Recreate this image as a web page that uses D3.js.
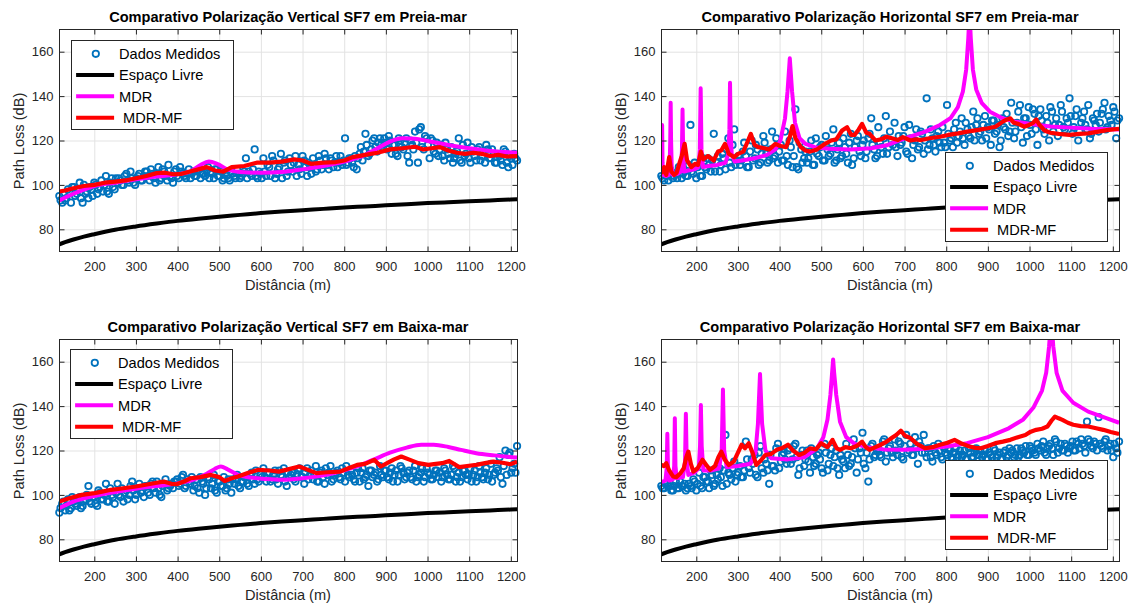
<!DOCTYPE html>
<html><head><meta charset="utf-8">
<script src="https://cdn.jsdelivr.net/npm/d3@7"></script>
<style>body{margin:0;background:#fff}</style>
</head><body><svg id="c" width="1143" height="606"></svg>
<script>
// ---------- DATA ----------
const titulos = [
  "Comparativo Polarização Vertical SF7 em Preia-mar",
  "Comparativo Polarização Horizontal SF7 em Preia-mar",
  "Comparativo Polarização Vertical SF7 em Baixa-mar",
  "Comparativo Polarização Horizontal SF7 em Baixa-mar"
];
const xLabel = "Distância (m)";
const yLabel = "Path Loss (dB)";
const legendLabels = ["Dados Medidos", "Espaço Livre", "MDR", " MDR-MF"];
const xTicks = [200, 300, 400, 500, 600, 700, 800, 900, 1000, 1100, 1200];
const yTicks = [80, 100, 120, 140, 160];

const distancias = [
  116,123,130,137,144,151,158,165,172,179,
  186,193,200,207,214,221,228,235,242,249,
  256,263,270,277,284,291,298,305,312,319,
  326,333,340,347,354,361,368,375,382,389,
  396,403,410,417,424,431,438,445,452,459,
  466,473,480,487,494,501,508,515,522,529,
  536,543,550,557,564,571,578,585,592,599,
  606,613,620,627,634,641,648,655,662,669,
  676,683,690,697,704,711,718,725,732,739,
  746,753,760,767,774,781,788,795,802,809,
  816,823,830,837,844,851,858,865,872,879,
  886,893,900,907,914,921,928,935,942,949,
  956,963,970,977,984,991,998,1005,1012,1019,
  1026,1033,1040,1047,1054,1061,1068,1075,1082,1089,
  1096,1103,1110,1117,1124,1131,1138,1145,1152,1159,
  1166,1173,1180,1187,1194,1201,1208,1215
];
const distanciasB = [
  119,126,133,140,147,154,161,168,175,182,
  189,196,203,210,217,224,231,238,245,252,
  259,266,273,280,287,294,301,308,315,322,
  329,336,343,350,357,364,371,378,385,392,
  399,406,413,420,427,434,441,448,455,462,
  469,476,483,490,497,504,511,518,525,532,
  539,546,553,560,567,574,581,588,595,602,
  609,616,623,630,637,644,651,658,665,672,
  679,686,693,700,707,714,721,728,735,742,
  749,756,763,770,777,784,791,798,805,812,
  819,826,833,840,847,854,861,868,875,882,
  889,896,903,910,917,924,931,938,945,952,
  959,966,973,980,987,994,1001,1008,1015,1022,
  1029,1036,1043,1050,1057,1064,1071,1078,1085,1092,
  1099,1106,1113,1120,1127,1134,1141,1148,1155,1162,
  1169,1176,1183,1190,1197,1204,1211
];

const medidosVPreia = [
  95,92,93,98,92,99,96,101,92,96,
  94,98,101,96,99,97,104,96,103,98,
  101,102,100,105,101,103,100,104,102,104,
  106,102,105,101,108,103,106,102,104,101,
  107,103,106,104,105,103,106,104,107,105,
  104,108,106,103,107,104,102,105,103,106,
  104,107,103,105,112,106,104,116,103,105,
  112,104,108,113,103,107,114,110,104,112,
  106,113,109,105,111,104,108,112,106,113,
  107,114,109,112,108,113,110,109,121,110,
  112,108,107,114,111,123,113,116,121,115,
  121,117,119,122,114,118,113,120,116,121,
  110,118,124,110,126,116,121,112,120,114,
  113,118,111,116,112,110,114,121,110,113,
  119,110,115,111,117,113,110,116,112,114,
  110,113,109,115,108,112,114,111
];
const medidosVPreiaB = [
  93,96,94,97,99,95,98,94,100,97,
  99,95,100,98,102,100,97,101,99,103,
  103,100,104,102,106,101,103,105,102,106,
  104,107,103,105,102,107,104,109,103,106,
  104,108,105,103,107,105,104,106,103,105,
  106,103,105,107,104,106,103,104,102,105,
  103,105,104,106,103,105,107,104,106,103,
  106,109,104,111,105,108,103,111,106,109,
  110,104,107,113,108,110,105,109,107,111,
  109,112,107,111,110,108,113,111,109,112,
  110,113,112,117,115,118,114,120,117,119,
  118,121,116,120,118,114,121,117,119,113,
  120,116,119,125,117,122,118,121,115,119,
  116,113,119,114,117,112,115,111,118,114,
  112,117,113,116,111,115,118,112,116,110,
  114,111,116,110,113,109,112
];
const medidosHPreia = [
  104,102,104,107,103,105,108,103,106,104,
  127,105,103,109,104,108,112,106,123,110,
  106,114,107,121,108,125,111,109,115,113,
  108,120,112,116,110,122,114,111,124,113,
  110,118,111,113,120,108,134,107,116,112,
  110,115,109,121,113,118,111,116,114,125,
  111,119,113,117,110,123,112,120,115,118,
  112,121,130,116,113,119,114,131,117,120,
  128,113,118,122,115,127,112,120,116,124,
  114,139,118,121,115,124,117,119,136,120,
  117,128,122,130,118,125,121,133,127,123,
  120,131,126,118,129,124,117,130,125,122,
  137,121,128,136,119,130,135,123,132,118,
  134,125,131,120,133,127,122,136,126,130,
  139,123,131,120,128,133,125,121,130,127,
  124,132,137,126,129,135,121,130
];
const medidosHPreiaB = [
  103,105,102,106,104,103,107,105,104,109,
  106,110,108,104,112,107,109,111,106,113,
  109,112,116,110,118,109,113,111,119,108,
  115,111,118,109,114,119,110,116,112,121,
  115,111,124,109,117,113,108,119,110,115,
  112,120,109,114,117,111,122,113,119,110,
  116,112,121,114,119,109,117,122,113,120,
  115,123,118,112,126,117,121,114,124,118,
  117,122,119,126,114,121,118,125,117,123,
  120,116,125,118,122,119,126,117,123,121,
  125,119,124,121,128,122,126,120,130,124,
  127,121,125,129,123,127,120,126,132,124,
  128,124,133,126,130,122,127,134,125,131,
  129,123,128,135,124,130,127,133,125,128,
  131,126,134,124,130,127,136,123,129,132,
  128,134,125,131,127,133,129
];
const medidosVBaixa = [
  92,96,93,98,94,97,95,99,95,98,
  104,96,99,95,101,98,105,97,100,96,
  105,99,97,102,100,106,98,103,101,99,
  104,100,106,101,103,99,105,102,104,103,
  106,104,108,103,107,105,102,107,101,106,
  100,108,103,109,101,106,104,102,107,101,
  105,109,103,106,108,104,110,105,107,109,
  112,106,110,107,111,105,109,112,104,108,
  110,106,111,108,105,112,109,107,113,106,
  111,105,109,113,107,110,108,112,106,109,
  111,107,110,106,112,108,104,111,109,106,
  113,108,111,107,112,109,106,113,110,108,
  111,107,113,108,110,106,112,109,107,111,
  108,106,112,109,107,113,106,110,108,111,
  107,112,109,106,113,108,110,107,114,109,
  112,117,105,120,118,110,114,122
];
const medidosVBaixaB = [
  94,97,95,93,99,96,98,94,97,100,
  97,99,96,102,98,100,97,103,99,101,
  100,103,101,98,104,102,100,105,102,104,
  101,105,103,106,100,104,107,103,105,106,
  107,105,109,104,106,108,104,103,108,105,
  103,107,105,102,106,104,108,103,105,107,
  107,104,106,108,105,109,107,111,106,108,
  108,110,106,109,107,111,108,106,110,109,
  107,109,112,108,110,107,111,109,106,110,
  108,112,110,106,109,111,107,110,113,108,
  109,106,112,110,107,109,111,108,110,107,
  109,111,108,110,106,111,109,112,107,110,
  108,111,106,109,112,108,110,107,109,111,
  110,108,111,107,109,112,108,106,111,109,
  109,106,111,108,110,107,112,109,106,110,
  111,108,113,109,119,112,110
];
const medidosHBaixa = [
  104,103,105,104,102,106,103,104,105,103,
  104,107,102,110,103,108,106,111,104,109,
  112,104,127,110,107,115,109,113,108,124,
  112,116,118,108,122,110,114,105,113,111,
  123,115,119,114,121,116,123,109,118,113,
  120,110,117,114,119,112,123,111,118,113,
  120,109,116,112,118,114,125,110,121,128,
  112,106,122,117,120,118,124,115,121,119,
  125,118,123,116,127,120,118,126,114,122,
  127,117,121,115,119,123,117,121,118,120,
  116,121,118,117,120,116,119,117,121,118,
  117,120,116,118,121,117,119,116,120,118,
  119,117,121,118,120,122,118,121,119,123,
  120,124,118,122,121,125,119,123,120,122,
  121,124,120,123,125,122,133,124,121,123,
  135,122,124,120,123,117,121,124
];
const medidosHBaixaB = [
  103,105,104,102,104,103,106,104,102,105,
  103,106,105,104,108,106,103,109,105,107,
  108,111,105,109,112,106,110,108,111,116,
  110,114,109,119,112,116,111,118,113,121,
  112,118,116,120,114,122,117,112,120,116,
  115,121,113,118,116,110,119,114,121,117,
  112,118,115,123,113,117,121,116,119,114,
  119,116,123,118,121,117,125,119,122,117,
  120,124,117,122,119,123,118,121,124,119,
  119,121,117,122,118,120,116,119,121,117,
  119,117,120,118,116,121,117,119,118,120,
  118,116,119,117,120,118,116,119,117,121,
  120,118,117,121,119,118,122,120,118,121,
  122,119,121,123,118,124,121,120,123,119,
  122,120,124,121,123,119,125,122,124,120,
  123,121,125,122,120,123,119
];

const espacoLivre = [
  [116,73.2],[130,74.2],[150,75.4],[175,76.7],[200,77.8],[250,79.8],[300,81.3],[350,82.6],
  [400,83.8],[450,84.8],[500,85.7],[550,86.5],[600,87.3],[650,88.0],[700,88.6],[750,89.2],
  [800,89.8],[850,90.3],[900,90.8],[950,91.3],[1000,91.8],[1050,92.2],[1100,92.6],[1150,93.0],
  [1200,93.4],[1215,93.5]
];

const mdrVPreia = [
  [116,93],[150,96],[200,99.5],[250,101],[300,102.5],[350,103.8],[400,104.8],[430,106],
  [455,109],[475,110.5],[495,109.5],[520,107],[550,105.8],[600,105.5],[650,105.8],[700,107],
  [750,108.5],[800,110.5],[850,113.5],[880,116.5],[910,119.5],[940,121],[970,120.8],
  [1000,119.8],[1050,118],[1100,116.5],[1150,115.3],[1215,114.5]
];
const mfVPreia = [
  [116,97],[130,97.5],[150,98.5],[175,99.5],[200,100],[225,101],[250,101.5],[275,102],
  [300,103],[325,104],[350,105.3],[370,105.5],[390,104.8],[410,105],[430,106],[450,107],
  [470,108],[490,106.5],[510,106],[530,108],[560,108.5],[590,110],[620,110],[650,110.5],
  [680,111.5],[700,111],[720,109.5],[750,110],[780,110.3],[800,111],[820,112.5],[850,113.5],
  [880,114.5],[910,116],[940,116.5],[970,117.2],[990,116],[1010,116.5],[1030,117],[1050,115.5],
  [1070,114.5],[1090,114],[1110,114.5],[1130,114],[1150,113],[1170,113.5],[1190,112.8],[1215,113]
];

const mdrHPreia = [
  [116,104],[117,110],[118,127],[119,110],[121,104.5],[128,104],[134,104.5],[136,108],
  [137.5,120],[138.5,137],[139.5,120],[141,108],[144,104.5],[155,105],[163,106],[165.5,115],
  [167,134],[168.5,115],[171,106],[180,106.5],[195,107],[205,108],[208.5,116],[210.5,143.5],
  [212.5,116],[216,108],[230,108.5],[250,109],[270,110],[277,114],[279.5,125],[281,146],
  [282.5,125],[285,114],[292,110.5],[310,111],[340,112],[370,113.5],[390,116],[402,120],
  [413,130],[419,142],[424.5,157],[430,142],[437,128],[448,121],[462,118.5],[485,117],
  [520,116.3],[570,116],[620,116.5],[660,118],[700,121],[750,124],[785,127],[810,130],
  [828,135],[840,142],[848,152],[853,166],[856,178],[859,166],[864,152],[872,143],
  [885,137],[905,133],[935,130],[965,128.5],[1000,127.5],[1050,126.3],[1100,125.8],[1150,125.3],
  [1215,125]
];
const mfHPreia = [
  [116,105],[123,108],[128,104.5],[135,112.5],[140,106],[147,104.5],[153,105.5],[160,110],
  [165,113],[172,118.5],[178,111],[188,108],[197,109.5],[204,109],[211,115],[217,111.5],
  [228,113],[242,111],[252,115],[260,115.5],[269,118.5],[278,114],[291,112.5],[300,114],
  [313,115],[322,119],[331,123],[340,118],[349,117],[363,116.5],[375,116],[390,118.5],
  [402,117.5],[416,117],[425,122],[431,126.5],[438,121],[451,117],[462,115.5],[473,115],
  [490,116],[509,118.5],[524,120],[536,120.5],[550,124.5],[562,126],[572,122.5],[580,122.5],
  [590,125],[598,127.5],[608,123.5],[616,123],[630,120],[643,120.5],[657,121.7],[669,121],
  [684,120.2],[696,121.5],[714,120],[728,120.5],[740,120.2],[760,121],[785,121.7],[805,122.5],
  [829,123.2],[850,124],[874,124.7],[900,125.5],[918,126.2],[936,128.5],[946,129.5],[954,130],
  [962,128],[973,127.5],[987,126.2],[999,127],[1009,128],[1016,129.5],[1024,127],[1036,124.5],
  [1050,123.5],[1070,123],[1096,122.5],[1120,123],[1141,123.2],[1165,124],[1186,124.7],[1215,125.3]
];

const mdrVBaixa = [
  [116,94],[150,97],[200,99.5],[250,101.3],[300,102.8],[350,104],[400,105.2],[440,107],
  [470,109.5],[490,111.8],[504,112.8],[520,111.5],[545,109],[575,107.8],[610,107.2],[650,106.8],
  [700,107.5],[750,108.8],[790,110.5],[830,112.8],[872,116],[910,119],[950,121.3],[985,122.6],
  [1015,122.6],[1050,121.6],[1080,120.3],[1117,118.8],[1160,117.8],[1215,116.8]
];
const mfVBaixa = [
  [116,97],[140,98.5],[170,100],[200,100.8],[219,101.5],[240,102.3],[270,103],[300,103.8],
  [330,104.8],[350,105.5],[366,106],[385,105],[398,104.8],[415,106],[431,107.5],[455,108],
  [480,109],[500,108],[513,106.3],[530,107.5],[545,108.3],[570,110],[594,111.3],[620,111],
  [643,110.5],[665,111.5],[692,112.8],[710,111.5],[733,109.8],[760,110.2],[790,110.5],[810,112],
  [831,113.5],[850,114],[872,115.8],[888,112.8],[905,114.5],[920,116],[937,117.3],[955,116],
  [978,114.3],[1002,113.5],[1020,114],[1035,114.3],[1052,115.3],[1063,114],[1076,112.5],[1095,113],
  [1117,113.5],[1138,114.3],[1158,115],[1180,114.5],[1199,113.8],[1215,115]
];

const mdrHBaixa = [
  [116,106],[120,106],[126,106.5],[129,112],[130.5,127.5],[132,112],[135,106.5],[144,107],
  [147,113],[148.5,134.5],[150,113],[153,107.5],[168,108],[173,115],[175,136.5],[177,115],
  [181,109],[195,110],[206,112],[209,122],[211,140.5],[213,122],[217,111],[235,111],
  [255,112],[261,120],[264,147.5],[267,120],[273,112.5],[300,113],[330,114],[342,119],
  [348,132],[353,154.5],[358,132],[366,120],[380,116.5],[420,116],[460,117],[490,121],
  [505,126],[515,134],[522,145],[526,155],[528.5,161],[531,155],[536,145],[545,133],
  [560,126],[580,123],[610,121.5],[650,120.5],[700,120.3],[750,120.8],[800,121.8],[850,123.3],
  [900,126],[950,130],[985,134],[1010,139.5],[1030,147],[1040,155],[1047,167],[1052,180],
  [1057,167],[1065,155],[1079,147],[1105,141.5],[1141,137.5],[1186,134.5],[1215,132.5]
];
const mfHBaixa = [
  [116,113.5],[122,113],[128,114.3],[135,111],[144,108.3],[152,108],[162,109.8],[170,112],
  [176,117],[181,119.5],[187,114],[193,110.5],[203,112],[215,115.8],[224,113.5],[233,111.3],
  [245,113],[253,117],[260,119.5],[268,116],[278,113.5],[290,115],[300,119],[309,122.6],
  [317,121],[326,123.3],[335,119],[344,113.5],[355,115.5],[366,118],[380,118.5],[393,120.3],
  [405,121],[420,122.6],[432,120],[447,118],[460,119],[473,121],[487,120.5],[500,123.3],
  [515,121.5],[527,124.8],[537,121],[545,120.3],[558,121.5],[571,121],[585,122],[598,124],
  [607,121.5],[616,120.3],[630,121.5],[643,122.6],[657,124],[669,125.6],[680,127],[691,128.9],
  [702,126.5],[714,125.6],[730,123],[749,121],[767,121.5],[785,122.6],[803,123.5],[820,124.8],
  [838,123],[856,121.8],[870,121.2],[883,121],[900,122],[918,123.3],[936,124],[954,124.8],
  [972,126],[990,127],[1003,128.5],[1016,129.3],[1030,129.8],[1043,130.8],[1053,133.5],[1061,135.3],
  [1070,134.5],[1079,133.8],[1092,132.5],[1105,131.6],[1123,131],[1141,130.8],[1160,130],[1177,129.3],
  [1195,128.3],[1215,127.4]
];

// ---------- LAYOUT ----------
const W = 458, H = 222;
const FONT = "'Liberation Sans', Arial, Helvetica, sans-serif";
const AX = "#262626";
const cores = { medidos: "#0072BD", livre: "#000000", mdr: "#FF00FF", mf: "#FF0000" };

const paineis = [
  { titulo: titulos[0], left: 59, top: 29, medidos: [medidosVPreia, medidosVPreiaB], mdr: mdrVPreia, mf: mfVPreia, smooth: true,  leg: [71, 40] },
  { titulo: titulos[1], left: 661, top: 29, medidos: [medidosHPreia, medidosHPreiaB], mdr: mdrHPreia, mf: mfHPreia, smooth: false, leg: [945, 152] },
  { titulo: titulos[2], left: 59, top: 339, medidos: [medidosVBaixa, medidosVBaixaB], mdr: mdrVBaixa, mf: mfVBaixa, smooth: true,  leg: [70, 349] },
  { titulo: titulos[3], left: 661, top: 339, medidos: [medidosHBaixa, medidosHBaixaB], mdr: mdrHBaixa, mf: mfHBaixa, smooth: false, leg: [945, 460] }
];

const svg = d3.select("#c");
svg.append("rect").attr("width", 1143).attr("height", 606).attr("fill", "#fff");
const defs = svg.append("defs");

paineis.forEach((p, i) => {
  const x = d3.scaleLinear().domain([116.5, 1216]).range([0, W]);
  const y = d3.scaleLinear().domain([70, 170]).range([H, 0]);
  const g = svg.append("g").attr("transform", `translate(${p.left + 0.5},${p.top + 0.5})`);

  defs.append("clipPath").attr("id", "clip" + i)
    .append("rect").attr("x", 0).attr("y", 0).attr("width", W).attr("height", H);

  // grid
  const gx = g.append("g").attr("transform", `translate(0,${H})`)
    .call(d3.axisBottom(x).tickValues(xTicks).tickSize(-H).tickFormat(""));
  const gy = g.append("g")
    .call(d3.axisLeft(y).tickValues(yTicks).tickSize(-W).tickFormat(""));
  [gx, gy].forEach(a => {
    a.select(".domain").remove();
    a.selectAll("line").attr("stroke", "#e3e3e3").attr("stroke-width", 1);
  });

  // data
  const data = g.append("g");
  const pts = distancias.map((d, k) => [d, p.medidos[0][k]])
    .concat(distanciasB.map((d, k) => [d, p.medidos[1][k]]));
  data.append("g").selectAll("circle").data(pts).join("circle")
    .attr("cx", d => x(d[0])).attr("cy", d => y(d[1])).attr("r", 3.2)
    .attr("fill", "none").attr("stroke", cores.medidos).attr("stroke-width", 1.8);

  const lines = data.append("g").attr("clip-path", `url(#clip${i})`);
  const lineSmooth = d3.line().x(d => x(d[0])).y(d => y(d[1])).curve(d3.curveMonotoneX);
  const lineLin = d3.line().x(d => x(d[0])).y(d => y(d[1]));
  lines.append("path").attr("d", lineSmooth(espacoLivre)).attr("fill", "none")
    .attr("stroke", cores.livre).attr("stroke-width", 4);
  lines.append("path").attr("d", (p.smooth ? lineSmooth : lineLin)(p.mdr)).attr("fill", "none")
    .attr("stroke", cores.mdr).attr("stroke-width", 4).attr("stroke-linejoin", "round");
  lines.append("path").attr("d", lineLin(p.mf)).attr("fill", "none")
    .attr("stroke", cores.mf).attr("stroke-width", 4.2).attr("stroke-linejoin", "round");

  // axes with inward ticks
  const tk = 5;
  const fmt = d3.format("d");
  const axB = g.append("g").attr("transform", `translate(0,${H})`)
    .call(d3.axisBottom(x).tickValues(xTicks).tickFormat(fmt).tickSizeInner(-tk).tickSizeOuter(0).tickPadding(10));
  const axL = g.append("g")
    .call(d3.axisLeft(y).tickValues(yTicks).tickFormat(fmt).tickSizeInner(-tk).tickSizeOuter(0).tickPadding(6));
  const axT = g.append("g")
    .call(d3.axisTop(x).tickValues(xTicks).tickSizeInner(-tk).tickSizeOuter(0).tickFormat(""));
  const axR = g.append("g").attr("transform", `translate(${W},0)`)
    .call(d3.axisRight(y).tickValues(yTicks).tickSizeInner(-tk).tickSizeOuter(0).tickFormat(""));
  [axB, axL, axT, axR].forEach(a => {
    a.select(".domain").remove();
    a.selectAll("line").attr("stroke", AX);
    a.selectAll("text").attr("fill", AX).attr("font-family", FONT).attr("font-size", 13);
  });
  g.append("rect").attr("x", 0).attr("y", 0).attr("width", W).attr("height", H)
    .attr("fill", "none").attr("stroke", AX).attr("stroke-width", 1);

  // title / labels
  svg.append("text").attr("x", p.left + W / 2).attr("y", p.top - 7.5)
    .attr("text-anchor", "middle").attr("font-family", FONT).attr("font-weight", "bold")
    .attr("font-size", 14.6).attr("fill", "#000").text(p.titulo);
  svg.append("text").attr("x", p.left + W / 2).attr("y", p.top + H + 38.5)
    .attr("text-anchor", "middle").attr("font-family", FONT)
    .attr("font-size", 14.6).attr("fill", AX).text(xLabel);
  svg.append("text")
    .attr("transform", `translate(${p.left - 35.5},${p.top + H / 2 + 1}) rotate(-90)`)
    .attr("text-anchor", "middle").attr("font-family", FONT)
    .attr("font-size", 14.6).attr("fill", AX).text(yLabel);

  // legend
  const lg = svg.append("g").attr("transform", `translate(${p.leg[0] + 0.5},${p.leg[1] + 0.5})`);
  lg.append("rect").attr("width", 162).attr("height", 89).attr("fill", "#fff")
    .attr("stroke", AX).attr("stroke-width", 1);
  const rowsY = [13.3, 34.5, 55.8, 77.2];
  const keys = ["medidos", "livre", "mdr", "mf"];
  keys.forEach((k, j) => {
    const ry = rowsY[j];
    if (k === "medidos") {
      lg.append("circle").attr("cx", 24.3).attr("cy", ry).attr("r", 3.2)
        .attr("fill", "none").attr("stroke", cores.medidos).attr("stroke-width", 1.8);
    } else {
      lg.append("line").attr("x1", 4.6).attr("x2", 42.6).attr("y1", ry).attr("y2", ry)
        .attr("stroke", cores[k]).attr("stroke-width", 4);
    }
    lg.append("text").attr("x", 47.5).attr("y", ry + 5.2)
      .attr("font-family", FONT).attr("font-size", 14.6).attr("fill", "#000")
      .style("white-space", "pre").text(legendLabels[j]);
  });
});
</script></body></html>
